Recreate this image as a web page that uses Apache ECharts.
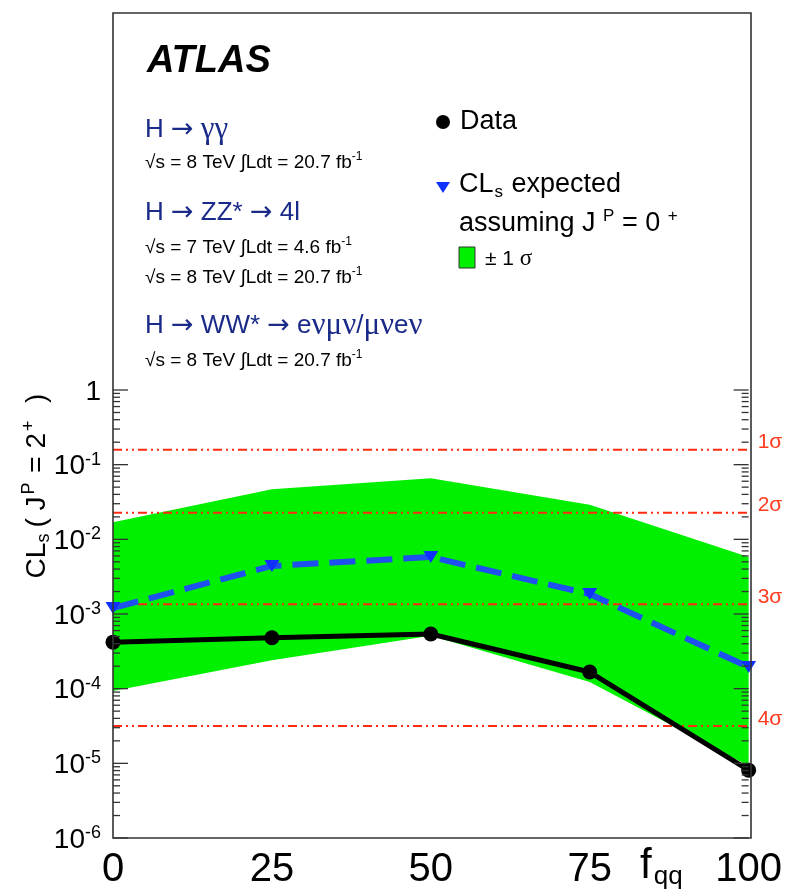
<!DOCTYPE html>
<html><head><meta charset="utf-8">
<script src="https://cdn.jsdelivr.net/npm/echarts@6/dist/echarts.min.js"></script>
<style>html,body{margin:0;padding:0;background:#fff}#c{width:785px;height:896px}</style>
</head><body><div id="c"></div>
<script>
// ---- data ----
const fqq = [0, 25, 50, 75, 100];
const observed = [4.2e-4, 4.8e-4, 5.4e-4, 1.67e-4, 8.1e-6];
const expected = [1.2e-3, 4.4e-3, 5.8e-3, 1.85e-3, 1.95e-4];
const bandHigh = [1.7e-2, 4.7e-2, 6.6e-2, 2.9e-2, 5.8e-3];
const bandLow = [9.3e-5, 2.4e-4, 5.1e-4, 1.23e-4, 9.2e-6];
const sigmaValues = [0.1587, 0.02275, 0.00135, 3.167e-5];
const sigmaLabels = ['1σ', '2σ', '3σ', '4σ'];
const xTicks = [0, 25, 50, 75, 100];
const yDecades = [-6, -5, -4, -3, -2, -1, 0];

const FONT = "'Liberation Sans', Arial, sans-serif";
const SERIF = "'Liberation Serif', 'DejaVu Serif', serif";
const G = {left: 113, top: 13, right: 34, bottom: 58};
const W = 785, H = 896;

// tick table (major decades + minor 2..9)
const ticks = [];
yDecades.forEach(e => {
  ticks.push([0, Math.pow(10, e), 1, e]);
  if (e < 0) for (let k = 2; k <= 9; k++) ticks.push([0, k * Math.pow(10, e), 0, e]);
});

const chart = echarts.init(document.getElementById('c'), null, {renderer: 'canvas'});

const blueT = '#1a2a88';
const procRich = {
  t: {fontSize: 26, fontFamily: FONT, fill: blueT},
  r: {fontSize: 27, fontFamily: "'DejaVu Sans', sans-serif", fill: blueT},
  g: {fontSize: 31, fontFamily: SERIF, fill: blueT}
};
const lumiRich = {s: {fontSize: 12, fontFamily: FONT, padding: [0, 0, 12, 0], fill: '#000'}};
const option = {
  animation: false,
  backgroundColor: '#fff',
  grid: {left: G.left, top: G.top, right: G.right, bottom: G.bottom, show: false},
  xAxis: {
    type: 'value', min: 0, max: 100, interval: 25,
    axisLine: {show: false}, axisTick: {show: false}, splitLine: {show: false},
    axisLabel: {color: '#000', fontSize: 40, fontFamily: "'Liberation Sans Narrow','Liberation Sans',sans-serif", margin: 12}
  },
  yAxis: {
    type: 'log', logBase: 10, min: 1e-6, max: 1.12e5,
    axisLine: {show: false}, axisTick: {show: false}, splitLine: {show: false},
    axisLabel: {show: false}
  },
  graphic: [
    {type: 'rect', z: 100, shape: {x: G.left, y: G.top, width: W - G.left - G.right, height: H - G.top - G.bottom},
     style: {fill: 'none', stroke: '#333', lineWidth: 1.6}},
    {type: 'text', x: 147, y: 62, style: {text: 'ATLAS', font: 'italic bold 38px ' + FONT, fill: '#000', textVerticalAlign: 'middle'}},
    {type: 'text', x: 145, y: 130, style: {text: '{t|H }{r|→}{t| }{g|γγ}', textVerticalAlign: 'middle', rich: procRich}},
    {type: 'text', x: 145, y: 163, style: {text: '√s = 8 TeV ∫Ldt = 20.7 fb{s|-1}', font: '19px ' + FONT, fill: '#000', textVerticalAlign: 'middle', rich: lumiRich}},
    {type: 'text', x: 145, y: 213, style: {text: '{t|H }{r|→}{t| ZZ* }{r|→}{t| 4l}', textVerticalAlign: 'middle', rich: procRich}},
    {type: 'text', x: 145, y: 248, style: {text: '√s = 7 TeV ∫Ldt = 4.6 fb{s|-1}', font: '19px ' + FONT, fill: '#000', textVerticalAlign: 'middle', rich: lumiRich}},
    {type: 'text', x: 145, y: 278, style: {text: '√s = 8 TeV ∫Ldt = 20.7 fb{s|-1}', font: '19px ' + FONT, fill: '#000', textVerticalAlign: 'middle', rich: lumiRich}},
    {type: 'text', x: 145, y: 326, style: {text: '{t|H }{r|→}{t| WW* }{r|→}{t| e}{g|νμν}{t|/}{g|μν}{t|e}{g|ν}', textVerticalAlign: 'middle', rich: procRich}},
    {type: 'text', x: 145, y: 361, style: {text: '√s = 8 TeV ∫Ldt = 20.7 fb{s|-1}', font: '19px ' + FONT, fill: '#000', textVerticalAlign: 'middle', rich: lumiRich}},
    // legend
    {type: 'circle', shape: {cx: 443, cy: 122, r: 7}, style: {fill: '#000'}},
    {type: 'text', x: 460, y: 122, style: {text: 'Data', font: '27px ' + FONT, fill: '#000', textVerticalAlign: 'middle'}},
    {type: 'polygon', shape: {points: [[436, 182], [450, 182], [443, 193]]}, style: {fill: '#1030ff'}},
    {type: 'text', x: 459, y: 185, style: {text: '{a|CL}{b|s}{a| expected}', font: '27px ' + FONT, fill: '#000', textVerticalAlign: 'middle',
      rich: {a: {fontSize: 27, fontFamily: FONT, fill: '#000'}, b: {fontSize: 17, fontFamily: FONT, fill: '#000', padding: [14, 1, 0, 1]}}}},
    {type: 'text', x: 459, y: 224, style: {text: '{a|assuming J }{b|P}{a| = 0 }{b|+}', font: '27px ' + FONT, fill: '#000', textVerticalAlign: 'middle',
      rich: {a: {fontSize: 27, fontFamily: FONT, fill: '#000'}, b: {fontSize: 17, fontFamily: FONT, fill: '#000', padding: [0, 0, 16, 0]}}}},
    {type: 'rect', shape: {x: 459, y: 247, width: 16, height: 21}, style: {fill: '#00f000', stroke: '#333', lineWidth: 1}},
    {type: 'text', x: 485, y: 259, style: {text: '{a|± 1 }{g|σ}', textVerticalAlign: 'middle',
      rich: {a: {fontSize: 21, fontFamily: FONT, fill: '#000'}, g: {fontSize: 23, fontFamily: SERIF, fill: '#000'}}}},
    // y axis title
    {type: 'text', x: 37, y: 486, rotation: Math.PI / 2, style: {text: '{a|CL}{b|s}{a|( J}{c|P}{a| = 2}{c|+}{a|  )}', textAlign: 'center', textVerticalAlign: 'middle',
      rich: {a: {fontSize: 28, fontFamily: FONT, fill: '#000'}, b: {fontSize: 18, fontFamily: FONT, fill: '#000', padding: [14, 6, 0, 0]}, c: {fontSize: 18, fontFamily: FONT, fill: '#000', padding: [0, 2, 16, 2]}}}},
    // x axis title
    {type: 'text', x: 640, y: 866, style: {text: '{a|f}{b|qq}', textVerticalAlign: 'middle',
      rich: {a: {fontSize: 42, fontFamily: "'Liberation Sans Narrow','Liberation Sans',sans-serif", fill: '#000'}, b: {fontSize: 26, fontFamily: "'Liberation Sans Narrow','Liberation Sans',sans-serif", fill: '#000', padding: [22, 0, 0, 2]}}}}
  ],
  series: [
    { // ±1σ band
      type: 'custom', z: 1, silent: true, clip: true,
      data: fqq.map((x, i) => [x, bandLow[i], bandHigh[i]]),
      renderItem(params, api) {
        if (params.dataIndex !== 0) return {type: 'group', children: []};
        const top = fqq.map((x, i) => api.coord([x, bandHigh[i]]));
        const bot = fqq.map((x, i) => api.coord([x, bandLow[i]])).reverse();
        return {type: 'polygon', shape: {points: top.concat(bot)}, style: {fill: '#00f000'}};
      }
    },
    { // sigma reference lines
      type: 'custom', z: 2, silent: true, clip: false,
      data: sigmaValues.map(v => [0, v]),
      renderItem(params, api) {
        const v = api.value(1);
        const a = api.coord([0, v]), b = api.coord([100, v]);
        return {type: 'group', children: [
          {type: 'line', shape: {x1: a[0], y1: a[1], x2: b[0], y2: b[1]}, style: {stroke: '#ff2a10', lineWidth: 2, lineDash: [9, 4, 2, 4, 2, 4]}},
          {type: 'text', x: b[0] + 9, y: b[1] - 7, style: {text: sigmaLabels[params.dataIndex], font: '21px ' + FONT, fill: '#ff3b1f', textVerticalAlign: 'middle'}}
        ]};
      }
    },
    { // expected
      type: 'line', z: 3, clip: false,
      data: fqq.map((x, i) => [x, expected[i]]),
      symbol: 'triangle', symbolRotate: 180, symbolSize: [15, 12],
      itemStyle: {color: '#1030ff'},
      lineStyle: {color: '#1e50f0', width: 6, type: [26, 11]}
    },
    { // observed
      type: 'line', z: 4, clip: false,
      data: fqq.map((x, i) => [x, observed[i]]),
      symbol: 'circle', symbolSize: 15,
      itemStyle: {color: '#000'},
      lineStyle: {color: '#000', width: 5}
    },
    { // axis ticks and labels
      type: 'custom', z: 5, silent: true, clip: false,
      data: ticks,
      renderItem(params, api) {
        const v = api.value(1), major = api.value(2), e = api.value(3);
        const L = major ? 15 : 7;
        const a = api.coord([0, v]), b = api.coord([100, v]);
        const ch = [
          {type: 'line', shape: {x1: a[0], y1: a[1], x2: a[0] + L, y2: a[1]}, style: {stroke: '#333', lineWidth: 1.3}},
          {type: 'line', shape: {x1: b[0] - L, y1: b[1], x2: b[0], y2: b[1]}, style: {stroke: '#333', lineWidth: 1.3}}
        ];
        if (major) {
          const txt = e === 0 ? '{b|1}' : '{b|10}{s|' + e + '}';
          ch.push({type: 'text', x: a[0] - 12, y: a[1] + 2, style: {text: txt, textAlign: 'right', textVerticalAlign: 'middle',
            rich: {b: {fontSize: 28, fontFamily: FONT, fill: '#000'}, s: {fontSize: 18, fontFamily: FONT, fill: '#000', padding: [0, 0, 14, 0]}}}});
        }
        return {type: 'group', children: ch};
      }
    }
  ]
};
chart.setOption(option);
</script>
</body></html>
